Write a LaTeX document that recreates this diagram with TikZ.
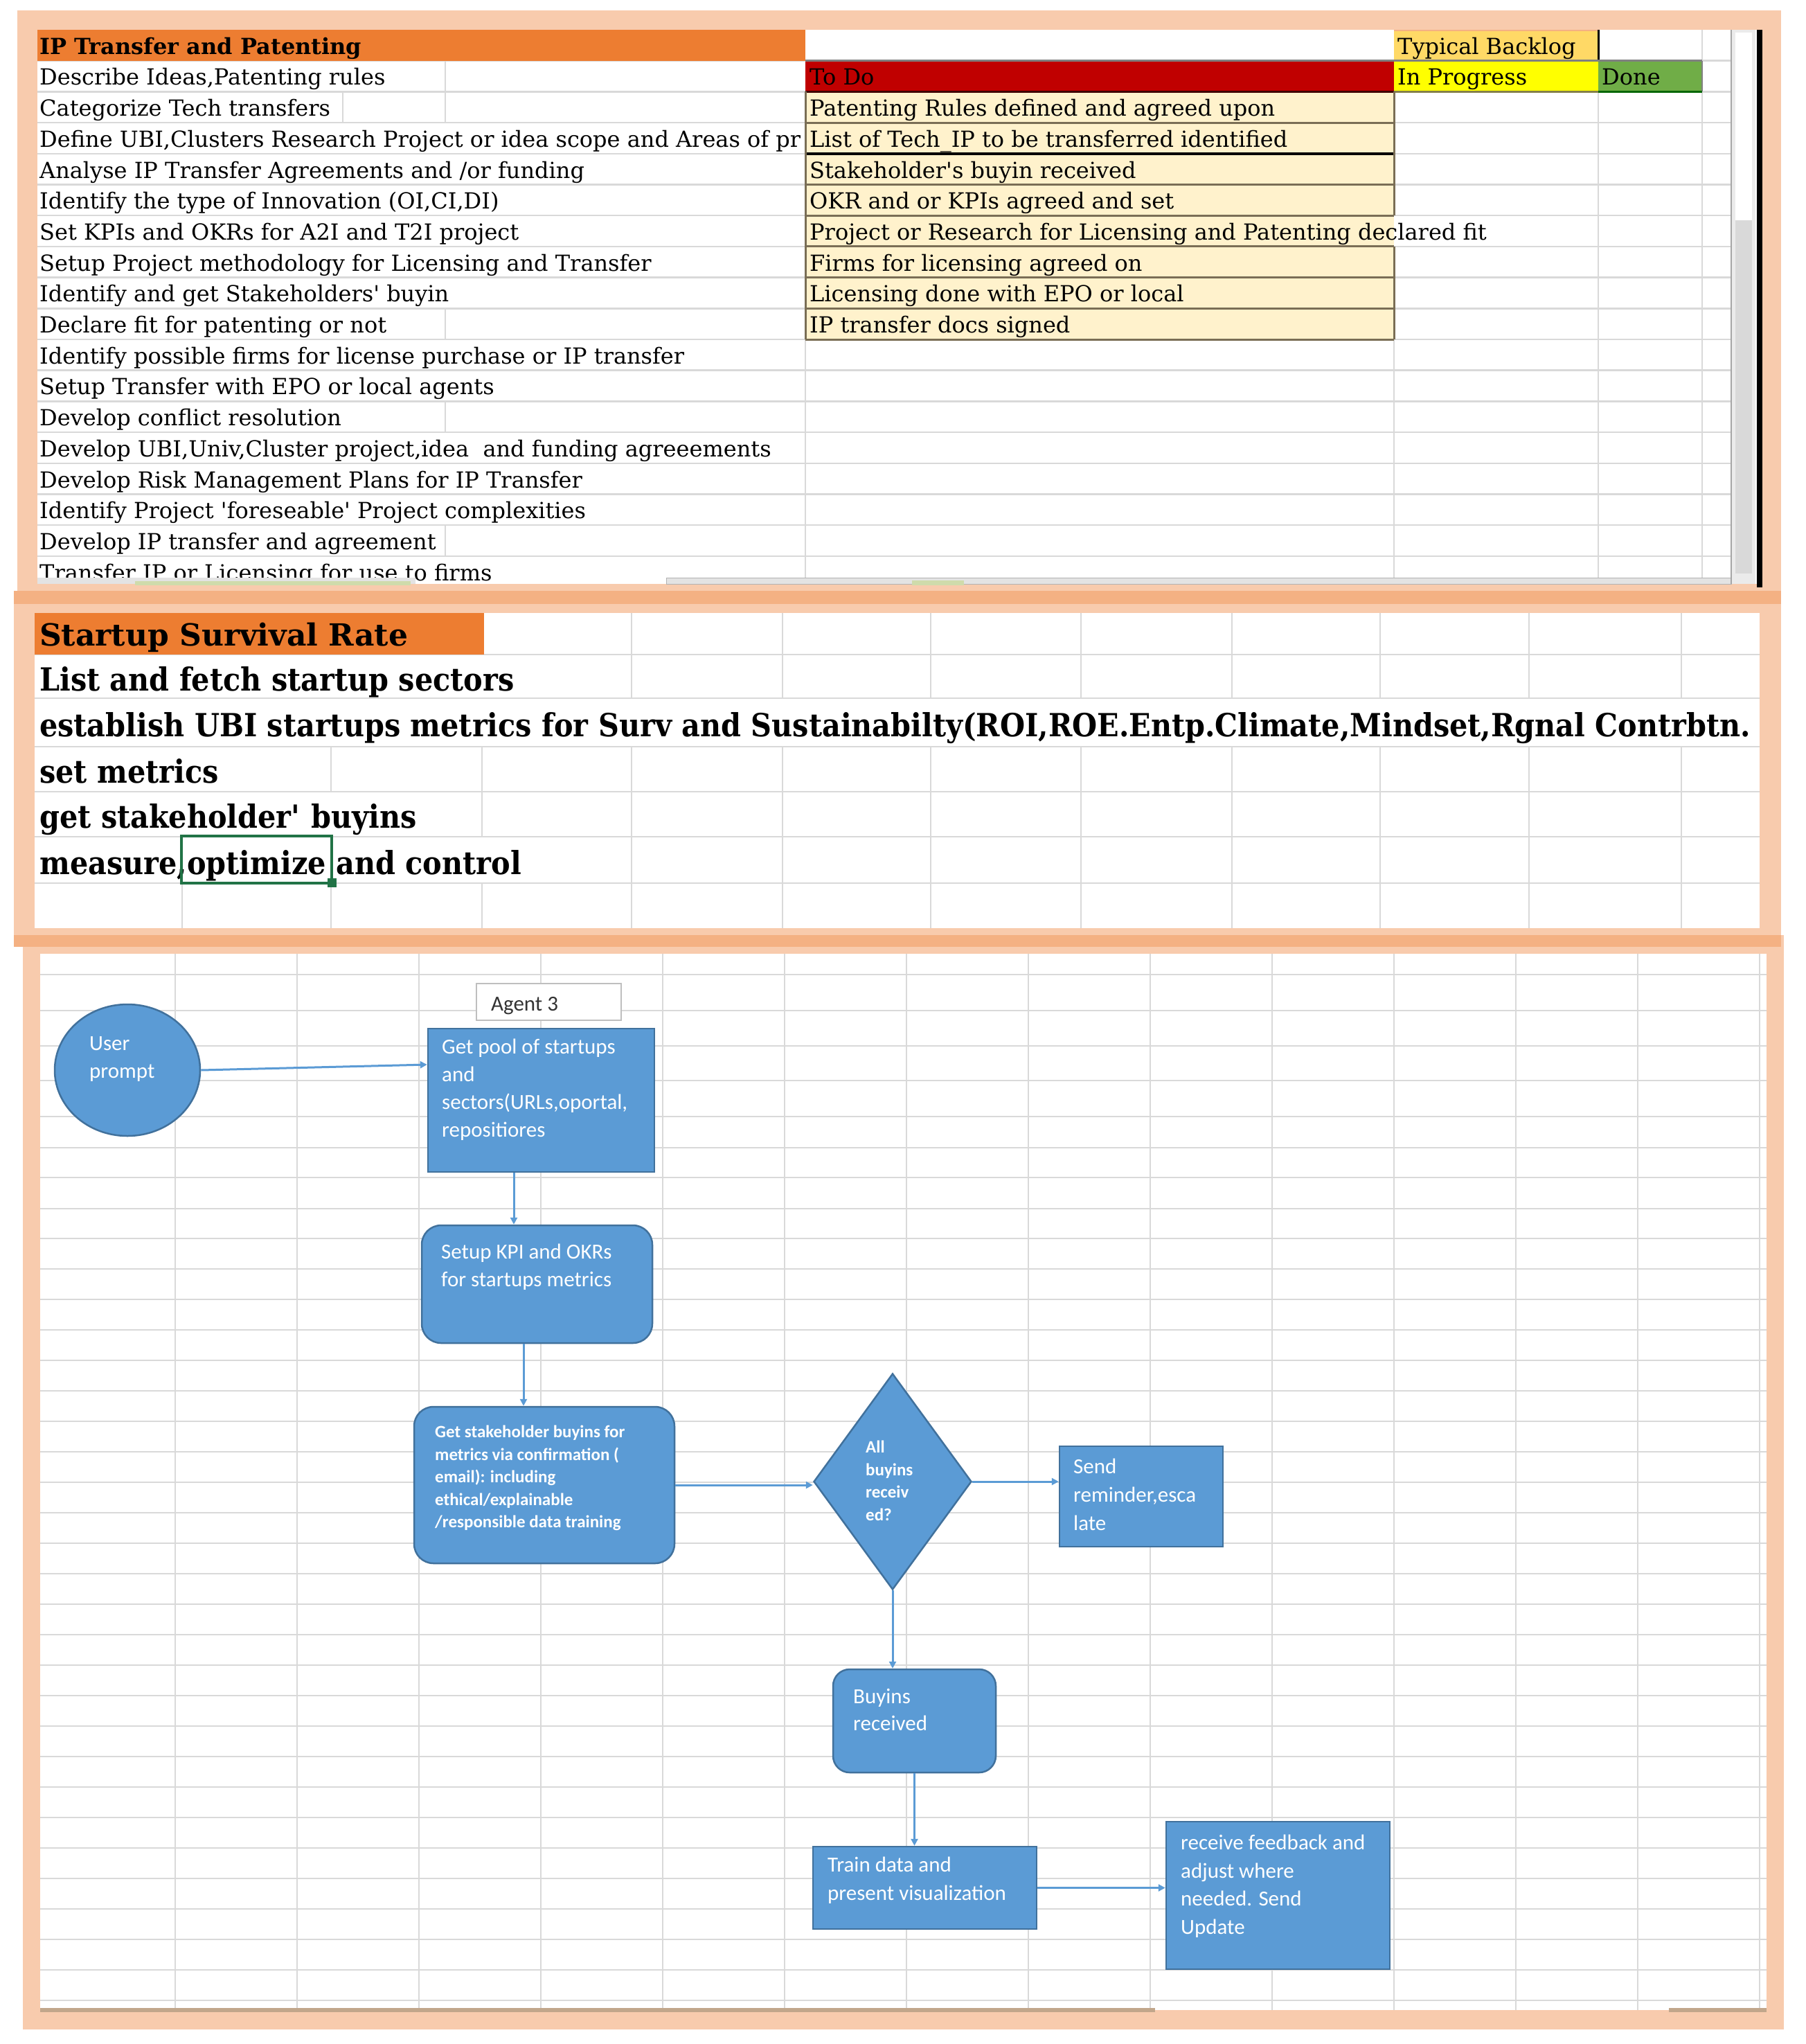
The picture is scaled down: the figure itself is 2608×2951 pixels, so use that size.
\documentclass[tikz,border=0pt]{standalone}
\usepackage{fontspec}
\setmainfont{DejaVu Serif}
\newfontfamily\slabfont{DejaVu Serif}
\newfontfamily\slabbig[FakeStretch=0.9]{DejaVu Serif}
\newfontfamily\calfont{Carlito}
\usetikzlibrary{shapes.geometric,arrows.meta}
\definecolor{peach}{HTML}{F8CBAD}
\definecolor{peachD}{HTML}{F4B183}
\definecolor{hdr}{HTML}{ED7D31}
\definecolor{todo}{HTML}{C00000}
\definecolor{inprog}{HTML}{FFFF00}
\definecolor{donec}{HTML}{70AD47}
\definecolor{backlog}{HTML}{FFD966}
\definecolor{cream}{HTML}{FFF2CC}
\definecolor{gridc}{HTML}{D9D9D9}
\definecolor{cellb}{HTML}{7A6E55}
\definecolor{shp}{HTML}{5B9BD5}
\definecolor{shpb}{HTML}{41719C}
\definecolor{selg}{HTML}{217346}
\definecolor{sbar}{HTML}{E3E3E3}
\begin{document}
\begin{tikzpicture}[x=1pt,y=-1pt,
  gl/.style={draw=gridc,line width=2.5pt},
  p1/.style={anchor=base west,inner sep=0pt,font=\slabfont\fontsize{32}{38}\selectfont},
  p1b/.style={anchor=base west,inner sep=0pt,font=\bfseries\fontsize{32}{38}\selectfont},
  p2/.style={anchor=base west,inner sep=0pt,font=\slabbig\bfseries\fontsize{46}{54}\selectfont},
  p2b/.style={anchor=base west,inner sep=0pt,font=\bfseries\fontsize{44}{50}\selectfont},
  box/.style={draw=shpb,fill=shp,line width=2.5pt,inner sep=0pt},
  rbox/.style={box,rounded corners=28pt},
  ftxt/.style={anchor=north west,inner sep=0pt,align=left,text=white,font=\calfont\fontsize{31}{40}\selectfont},
  fsm/.style={anchor=north west,inner sep=0pt,align=left,text=white,font=\calfont\bfseries\fontsize{25}{32.5}\selectfont},
  conn/.style={draw=shp,line width=3pt,-{Triangle[length=10pt,width=10pt]}},
]
\useasboundingbox (0,0) rectangle (2608,2951);
\fill[white] (0,0) rectangle (2608,2951);

% ---------- panel frames ----------
\fill[peach] (25,15) rectangle (2572,866);
\fill[white] (54,43) rectangle (2545,843);
\fill[peach] (20,853) rectangle (2572,1352);
\fill[peachD] (20,853) rectangle (2572,872);
\fill[white] (50,885) rectangle (2541,1340);
\fill[peach] (33,1350) rectangle (2576,2930);
\fill[peachD] (20,1350) rectangle (2572,1367);
\fill[white] (58,1377) rectangle (2551,2902);

% ---------- panel 1 : grid ----------
\foreach \k in {1,...,17}{
  \pgfmathsetmacro\yy{43+44.7*\k}
  \draw[gl] (54,\yy) -- (2500,\yy);
}
\draw[gl] (495,132.4) -- (495,177.1);
\draw[gl] (643,87.7) -- (643,177.1);
\draw[gl] (643,445.3) -- (643,490);
\draw[gl] (643,579.4) -- (643,624.1);
\draw[gl] (643,758.2) -- (643,802.9);
\draw[gl] (1163,490) -- (1163,843);
\draw[gl] (2013,490) -- (2013,843);
\draw[gl] (2308,132.4) -- (2308,843);
\draw[gl] (2458,43) -- (2458,843);

% ---------- panel 1 : cells ----------
\fill[hdr] (54,43) rectangle (1163,87.7);
\fill[backlog] (2013,43) rectangle (2308,87.7);
\fill[todo] (1163,87.7) rectangle (2013,132.4);
\fill[inprog] (2013,87.7) rectangle (2308,132.4);
\fill[donec] (2308,87.7) rectangle (2458,132.4);
\fill[cream] (1163,132.4) rectangle (2013,490);
\draw[peachD,line width=2.5pt] (2013,44) -- (2308,44);
\draw[black,line width=3pt] (2308,43) -- (2308,87.7);
\draw[gray,line width=3pt] (1163,87.7) -- (2458,87.7);
\draw[gray,line width=2.5pt] (2458,87.7) -- (2458,132.4);
\draw[black!75!red,line width=3pt] (1163,132.4) -- (2013,132.4);
\draw[black!55!yellow,line width=3pt] (2013,132.4) -- (2308,132.4);
\draw[black!60!green,line width=3pt] (2308,132.4) -- (2458,132.4);
\foreach \yy in {177.1,266.5,311.2,355.9,400.6,445.3,490}{
  \draw[cellb,line width=3pt] (1163,\yy) -- (2013,\yy);
}
\draw[black,line width=4pt] (1163,221.8) -- (2013,221.8);
\draw[cellb,line width=3pt] (1163,132.4) -- (1163,490);
\draw[cellb,line width=3pt] (2013,132.4) -- (2013,311.2);
\draw[cellb,line width=3pt] (2013,355.9) -- (2013,490);

% ---------- panel 1 : texts ----------
\begin{scope}
\clip (0,0) rectangle (1161,843);
\node[p1b] (L0) at (57,78.2) {IP Transfer and Patenting};
\node[p1] (L1) at (57,122.9) {Describe Ideas,Patenting rules};
\node[p1] (L2) at (57,167.6) {Categorize Tech transfers};
\node[p1] (L3) at (57,212.3) {Define UBI,Clusters Research Project or idea scope and Areas of pr};
\node[p1] (L4) at (57,257.0) {Analyse IP Transfer Agreements and /or funding};
\node[p1] (L5) at (57,301.7) {Identify the type of Innovation (OI,CI,DI)};
\node[p1] (L6) at (57,346.4) {Set KPIs and OKRs for A2I and T2I project};
\node[p1] (L7) at (57,391.1) {Setup Project methodology for Licensing and Transfer};
\node[p1] (L8) at (57,435.8) {Identify and get Stakeholders\textquotesingle\ buyin};
\node[p1] (L9) at (57,480.5) {Declare fit for patenting or not};
\node[p1] (L10) at (57,525.2) {Identify possible firms for license purchase or IP transfer};
\node[p1] (L11) at (57,569.9) {Setup Transfer with EPO or local agents};
\node[p1] (L12) at (57,614.6) {Develop conflict resolution};
\node[p1] (L13) at (57,659.3) {Develop UBI,Univ,Cluster project,idea\ \ and funding agreeements};
\node[p1] (L14) at (57,704.0) {Develop Risk Management Plans for IP Transfer};
\node[p1] (L15) at (57,748.7) {Identify Project \textquotesingle foreseable\textquotesingle\ Project complexities};
\node[p1] (L16) at (57,793.4) {Develop IP transfer and agreement};
\node[p1] (L17) at (57,838.1) {Transfer IP or Licensing for use to firms};
\end{scope}
\node[p1] (TB) at (2018,78.2) {Typical Backlog};
\node[p1] (R1) at (1169,122.9) {To Do};
\node[p1] (IP) at (2018,122.9) {In Progress};
\node[p1] (DN) at (2313,122.9) {Done};
\node[p1] (R2) at (1169,167.6) {Patenting Rules defined and agreed upon};
\node[p1] (R3) at (1169,212.3) {List of Tech\_IP to be transferred identified};
\node[p1] (R4) at (1169,257.0) {Stakeholder\textquotesingle s buyin received};
\node[p1] (R5) at (1169,301.7) {OKR and or KPIs agreed and set};
\node[p1] (R6) at (1169,346.4) {Project or Research for Licensing and Patenting declared fit};
\node[p1] (R7) at (1169,391.1) {Firms for licensing agreed on};
\node[p1] (R8) at (1169,435.8) {Licensing done with EPO or local};
\node[p1] (R9) at (1169,480.5) {IP transfer docs signed};

% ---------- panel 1 : scrollbars ----------
\fill[sbar] (54,834) rectangle (600,843);
\fill[green!30!brown!40] (195,839) rectangle (593,845);
\fill[sbar] (962,834) rectangle (2500,843);
\draw[gray!60,line width=1pt] (962,834) rectangle (2500,843);
\fill[green!30!brown!40] (1317,838) rectangle (1392,845);
\fill[sbar!70] (2500,43) rectangle (2535,843);
\fill[white] (2506,47) rectangle (2530,318);
\fill[gridc] (2506,318) rectangle (2530,828);
\draw[gray!70,line width=2pt] (2500,43) -- (2500,843);
\fill[black] (2537,43) rectangle (2545,848);

% ---------- panel 2 ----------
\foreach \yy in {945,1008,1078,1143,1208,1275}{
  \draw[gl] (50,\yy) -- (2541,\yy);
}
\foreach \xx in {912,1130,1344,1561,1779,1993,2208,2428}{
  \draw[gl] (\xx,885) -- (\xx,1008);
  \draw[gl] (\xx,1078) -- (\xx,1143);
  \draw[gl] (\xx,1143) -- (\xx,1340);
}
\draw[gl] (478,1078) -- (478,1143);
\draw[gl] (696,1078) -- (696,1208);
\draw[gl] (263,1275) -- (263,1340);
\draw[gl] (478,1275) -- (478,1340);
\draw[gl] (696,1275) -- (696,1340);
\fill[hdr] (50,885) rectangle (699,945);
\node[p2b] (S0) at (57,932) {Startup Survival Rate};
\node[p2] (S1) at (57,997) {List and fetch startup sectors};
\begin{scope}
\clip (0,0) rectangle (2541,1340);
\node[p2] (S2) at (57,1063) {establish UBI startups metrics for Surv and Sustainabilty(ROI,ROE.Entp.Climate,Mindset,Rgnal Contrbtn.};
\end{scope}
\node[p2] (S3) at (57,1130) {set metrics};
\node[p2] (S4) at (57,1195) {get stakeholder\textquotesingle\ buyins};
\node[p2] (S5) at (57,1262) {measure,optimize and control};
\draw[selg,line width=4pt] (262,1207) rectangle (479,1275);
\fill[selg] (473,1268) rectangle (486,1281);

% ---------- panel 3 : grid ----------
\foreach \yy in {1407,1459,1510,1560,1612,1657,1700,1745}{
  \draw[gl] (58,\yy) -- (2551,\yy);
}
\foreach \k in {0,...,25}{
  \pgfmathsetmacro\yy{1788+44*\k}
  \draw[gl] (58,\yy) -- (2551,\yy);
}
\foreach \k in {0,...,13}{
  \pgfmathsetmacro\xx{253+176*\k}
  \draw[gl] (\xx,1377) -- (\xx,2902);
}
\fill[brown!60!gray!70] (58,2899) rectangle (1668,2905);
\fill[brown!60!gray!70] (2410,2899) rectangle (2551,2905);

% ---------- panel 3 : flowchart ----------
\node[ellipse,draw=shpb,fill=shp,line width=2.5pt,minimum width=210pt,minimum height=190pt,inner sep=0pt] (up) at (184,1545) {};
\node[ftxt] (upt) at (129,1496) {User\\prompt};

\node[draw=gray!50,fill=white,line width=2pt,minimum width=209pt,minimum height=53pt,inner sep=0pt] (ag) at (792.5,1446.5) {};
\node[anchor=base west,inner sep=0pt,text=black!80,font=\calfont\fontsize{31}{40}\selectfont] (agt) at (709,1459) {Agent 3};

\node[box,minimum width=327pt,minimum height=207pt] (gp) at (781.5,1588.5) {};
\node[ftxt] (gpt) at (638,1500) {Get pool of startups\\and\\sectors(URLs,oportal,\\repositiores};

\node[rbox,minimum width=333pt,minimum height=170pt] (kpi) at (775.5,1854) {};
\node[ftxt] (kpit) at (637,1796) {Setup KPI and OKRs\\for startups metrics};

\node[rbox,minimum width=376pt,minimum height=226pt] (sh) at (786,2144) {};
\node[fsm] (sht) at (628,2058) {Get stakeholder buyins for\\metrics via confirmation (\\email): including\\ethical/explainable\\/responsible data training};

\node[diamond,draw=shpb,fill=shp,line width=2.5pt,minimum width=228pt,minimum height=312pt,inner sep=0pt] (dia) at (1289,2139) {};
\node[fsm] (diat) at (1250,2080) {All\\buyins\\receiv\\ed?};

\node[box,minimum width=236pt,minimum height=145pt] (send) at (1648,2160.5) {};
\node[ftxt,font=\calfont\fontsize{31}{41}\selectfont] (sendt) at (1550,2106) {Send\\reminder,esca\\late};

\node[rbox,rounded corners=24pt,minimum width=235pt,minimum height=149pt] (buy) at (1320.5,2484.5) {};
\node[ftxt,font=\calfont\fontsize{31}{39}\selectfont] (buyt) at (1232,2438) {Buyins\\received};

\node[box,minimum width=323pt,minimum height=119pt] (train) at (1335.5,2725.5) {};
\node[ftxt,font=\calfont\fontsize{31}{41}\selectfont] (traint) at (1195,2681) {Train data and\\present visualization};

\node[box,minimum width=323pt,minimum height=213pt] (fb) at (1845.5,2736.5) {};
\node[ftxt,font=\calfont\fontsize{31}{40.5}\selectfont] (fbt) at (1705,2649) {receive feedback and\\adjust where\\needed. Send\\Update};

% connectors
\draw[conn] (up.east) -- ([yshift=51.5pt]gp.west);
\draw[conn] ([xshift=-39.5pt]gp.south) -- ([xshift=-39.5pt]gp.south |- kpi.north);
\draw[conn] ([xshift=-19.5pt]kpi.south) -- ([xshift=-19.5pt]kpi.south |- sh.north);
\draw[conn] (sh.east) -- (sh.east -| dia.west);
\draw[conn] (dia.east) -- (dia.east -| send.west);
\draw[conn] (dia.south) -- (dia.south |- buy.north);
\draw[conn] (buy.south) -- (buy.south |- train.north);
\draw[conn] (train.east) -- (train.east -| fb.west);
\end{tikzpicture}
\end{document}
